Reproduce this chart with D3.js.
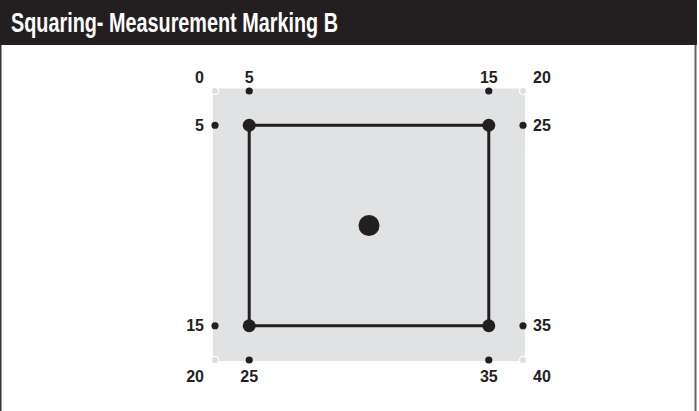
<!DOCTYPE html>
<html><head><meta charset="utf-8">
<script src="https://cdn.jsdelivr.net/npm/d3@7"></script>
<style>html,body{margin:0;padding:0;background:#fff;overflow:hidden}</style>
</head><body>
<svg id="c" width="699" height="411"></svg>
<script>
// Data (station units along the layout grid)
const title = "Squaring- Measurement Marking B";
const xStations = [0, 1, 8, 9];
const yStations = [0, 1, 6.85, 7.85];
const topLabels = ["0", "5", "15", "20"];
const bottomLabels = ["20", "25", "35", "40"];
const leftLabels = ["5", "15"];
const rightLabels = ["25", "35"];
const centerPoint = [4.5, 3.925];

const svg = d3.select("#c");
const W = 699, H = 411;
const ink = "#231f20";

const x = d3.scaleLinear().domain([0, 9]).range([215, 523]);
const y = d3.scaleLinear().domain([0, 7.85]).range([91, 360]);

// frame
svg.append("rect").attr("x", 0).attr("y", 0).attr("width", 697).attr("height", 45).attr("fill", ink);
svg.append("line").attr("x1", 0.75).attr("x2", 0.75).attr("y1", 45).attr("y2", H).attr("stroke", "#333").attr("stroke-width", 1.5);
svg.append("line").attr("x1", 695.5).attr("x2", 695.5).attr("y1", 45).attr("y2", H).attr("stroke", "#666").attr("stroke-width", 2);
svg.append("text").attr("x", 11).attr("y", 32).attr("fill", "#fff")
  .attr("font-family", "'Liberation Sans Narrow', 'Liberation Sans', Arial, sans-serif")
  .attr("font-weight", "bold").attr("font-size", 27)
  .attr("textLength", 327).attr("lengthAdjust", "spacingAndGlyphs")
  .text(title);

// gray area
const x0 = x(xStations[0]), x3 = x(xStations[3]);
const y0 = y(yStations[0]), y3 = y(yStations[3]);
svg.append("rect").attr("x", x0 - 2).attr("y", y0 - 2.5)
  .attr("width", x3 - x0 + 4).attr("height", y3 - y0 + 3.5).attr("fill", "#e1e2e4");

// inner square
const xi = [x(xStations[1]), x(xStations[2])], yi = [y(yStations[1]), y(yStations[2])];
svg.append("rect").attr("x", xi[0]).attr("y", yi[0]).attr("width", xi[1] - xi[0]).attr("height", yi[1] - yi[0])
  .attr("fill", "none").attr("stroke", ink).attr("stroke-width", 3);

// corner big dots
const inner = [[1,1],[2,1],[1,2],[2,2]];
svg.selectAll(".big").data(inner).enter().append("circle")
  .attr("cx", d => x(xStations[d[0]])).attr("cy", d => y(yStations[d[1]])).attr("r", 6.5).attr("fill", ink);

// center dot
svg.append("circle").attr("cx", x(centerPoint[0])).attr("cy", y(centerPoint[1])).attr("r", 10.5).attr("fill", ink);

// perimeter markers
const pts = [];
topLabels.forEach((l, i) => pts.push({l, c: i, r: 0, side: "top"}));
bottomLabels.forEach((l, i) => pts.push({l, c: i, r: 3, side: "bottom"}));
leftLabels.forEach((l, i) => pts.push({l, c: 0, r: i + 1, side: "left"}));
rightLabels.forEach((l, i) => pts.push({l, c: 3, r: i + 1, side: "right"}));

const isCorner = d => (d.c === 0 || d.c === 3) && (d.r === 0 || d.r === 3);

svg.selectAll(".mk").data(pts).enter().append("circle")
  .attr("cx", d => x(xStations[d.c])).attr("cy", d => y(yStations[d.r]))
  .attr("r", d => isCorner(d) ? 3.5 : 3.6)
  .attr("fill", d => isCorner(d) ? "#dcdddf" : ink)
  .attr("stroke", d => isCorner(d) ? "#fff" : "none").attr("stroke-width", 1.2);

svg.selectAll(".lb").data(pts).enter().append("text")
  .attr("font-family", "'Liberation Sans', Arial, Helvetica, sans-serif")
  .attr("font-weight", "bold").attr("font-size", 16).attr("fill", ink)
  .attr("x", d => {
    const px = x(xStations[d.c]);
    if (d.side === "left" || (isCorner(d) && d.c === 0)) return px - 11;
    if (d.side === "right" || (isCorner(d) && d.c === 3)) return px + 10;
    return px;
  })
  .attr("y", d => {
    const py = y(yStations[d.r]);
    if (d.side === "top") return py - 8.5;
    if (d.side === "bottom") return py + 21.5;
    return py + 5.5;
  })
  .attr("text-anchor", d => {
    if (d.side === "left" || (isCorner(d) && d.c === 0)) return "end";
    if (d.side === "right" || (isCorner(d) && d.c === 3)) return "start";
    return "middle";
  })
  .text(d => d.l);
</script>
</body></html>
